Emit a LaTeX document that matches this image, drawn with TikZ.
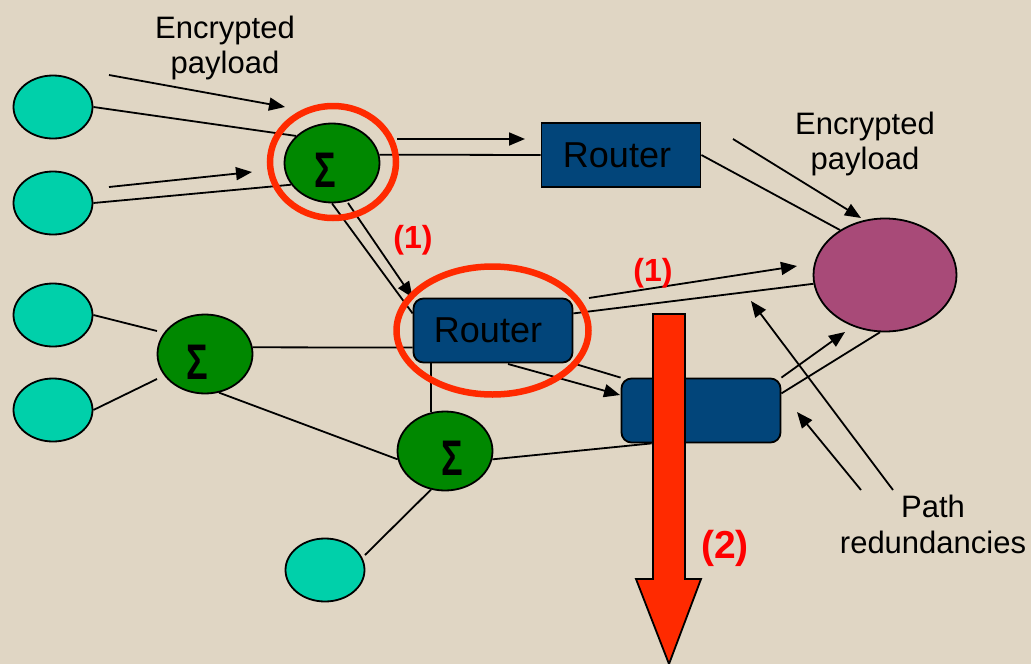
\documentclass[tikz,border=0pt]{standalone}
\usepackage{fontspec}
\setmainfont{Liberation Sans}
\usetikzlibrary{shapes.geometric,arrows.meta}
\definecolor{bg}{RGB}{224,214,196}
\definecolor{leaf}{RGB}{0,208,170}
\definecolor{sumg}{RGB}{0,136,0}
\definecolor{rblue}{RGB}{2,69,122}
\definecolor{dest}{RGB}{168,74,120}
\definecolor{ring}{RGB}{255,42,0}
\definecolor{lbl}{RGB}{255,0,0}
\begin{document}
\begin{tikzpicture}[x=1pt,y=-1pt,line width=1.8pt,
  leafnode/.style={ellipse,draw=black,fill=leaf,minimum width=79pt,minimum height=63pt,inner sep=0pt},
  sumnode/.style={ellipse,draw=black,fill=sumg,minimum width=95pt,minimum height=79pt,inner sep=0pt},
  sigma/.style={font=\fontsize{50}{50}\selectfont\bfseries,inner sep=0pt,text=black},
  router/.style={rectangle,draw=black,fill=rblue,minimum width=159pt,minimum height=64pt,inner sep=0pt,font=\fontsize{36}{36}\selectfont},
  rrouter/.style={router,rounded corners=10pt},
  destnode/.style={ellipse,draw=black,fill=dest,minimum width=143pt,minimum height=113pt,inner sep=0pt},
  txt/.style={font=\fontsize{31}{35}\selectfont,align=center,inner sep=0pt,anchor=north},
  redlab/.style={font=\fontsize{32}{32}\selectfont\bfseries,text=lbl,inner sep=0pt},
  ringst/.style={draw=ring,line width=6.5pt},
  arr/.style={-{Triangle[length=16pt,width=13pt]}},
  conn/.style={line width=1.8pt}]
\fill[bg] (0,0) rectangle (1031,664);
\useasboundingbox (0,0) rectangle (1031,664);

% nodes
\node[leafnode] (C1) at (53,107) {};
\node[leafnode] (C2) at (53,203) {};
\node[leafnode] (C3) at (53,315) {};
\node[leafnode] (C4) at (53,410) {};
\node[leafnode] (C5) at (325,570) {};
\node[sumnode,label={[sigma,xshift=-7pt,yshift=-7pt]center:\scalebox{0.72}[1]{Σ}}] (G1) at (332,163) {};
\node[sumnode,label={[sigma,xshift=-8pt,yshift=-8pt]center:\scalebox{0.72}[1]{Σ}}] (G2) at (205,354) {};
\node[sumnode,label={[sigma,xshift=7pt,yshift=-7pt]center:\scalebox{0.72}[1]{Σ}}] (G3) at (445,451) {};
\node[router] (R1) at (621,155) {Router\hspace*{8pt}};
\node[rrouter] (R2) at (493,330.5) {Router\hspace*{10pt}};
\node[rrouter] (R3) at (701,410.5) {};
\node[destnode] (P) at (885,275) {};

% free arrow ends
\coordinate (a1s) at (109,75);  \coordinate (a1e) at (285,107);
\coordinate (a2s) at (109,187); \coordinate (a2e) at (252,172);
\coordinate (a3s) at (397,139); \coordinate (a3e) at (525,139);
\coordinate (a4s) at (348,203);
\coordinate (a5s) at (733,139); \coordinate (a5e) at (861,218);
\coordinate (a6s) at (589,298); \coordinate (a6e) at (797,266);
\coordinate (a7s) at (508,364); \coordinate (a7e) at (620,395);
\coordinate (a8e) at (845,332);
\coordinate (a9s) at (893,490); \coordinate (a9e) at (751,301);
\coordinate (a10s) at (861,490); \coordinate (a10e) at (797,412);
\coordinate (g2in1) at (157,331);
\coordinate (g2in2) at (157,379);
\coordinate (c5out) at (365,555);
\coordinate (r3foot) at ([xshift=31pt]R3.south west);

% connectors
\draw[conn] (C1.east) -- (G1.143);
\draw[conn] (C2.east) -- (G1.208);
\draw[conn,arr] (a1s) -- (a1e);
\draw[conn,arr] (a2s) -- (a2e);
\draw[conn] (G1.10) -- (R1.west);
\draw[conn,arr] (a3s) -- (a3e);
\draw[conn] (G1.south) -- (R2.168);
\draw[conn,arr] (a4s) -- (R2.north west);
\draw[conn] (R1.east) -- (P.135);
\draw[conn,arr] (a5s) -- (a5e);
\draw[conn,arr] (a6s) -- (a6e);
\draw[conn] (R2.12) -- (P.187);
\draw[conn,arr] (a7s) -- (a7e);
\draw[conn] (R2.south east) -- (R3.north west);
\draw[conn,arr] (R3.north east) -- (a8e);
\draw[conn] (R3.12) -- (P.265);
\draw[conn,arr] (a9s) -- (a9e);
\draw[conn,arr] (a10s) -- (a10e);
\draw[conn] (C3.east) -- (g2in1);
\draw[conn] (C4.east) -- (g2in2);
\draw[conn] (G2.8) -- (R2.192);
\draw[conn] (G2.290) -- (G3.190);
\draw[conn] (G3.110 |- R2.south) -- (G3.110);
\draw[conn] (c5out) -- (G3.250);
\draw[conn] (G3.350) -- (r3foot);

% red rings
\draw[ringst] (333,162) ellipse [x radius=63, y radius=56];
\draw[ringst] (492.5,330.5) ellipse [x radius=96, y radius=64];

% big red arrow
\draw[line width=1.8pt,fill=ring] (653,314) -- (685,314) -- (685,579) -- (701,579) -- (669,664) -- (636,579) -- (653,579) -- cycle;

% labels
\node[txt] (lab1) at (225,15) {Encrypted\\payload};
\node[txt] (lab2) at (865,111) {Encrypted\\payload};
\node[txt,font=\fontsize{31}{36}\selectfont] (lab3) at (933,494) {Path\\redundancies};
\node[redlab] (one1) at (413,240) {(1)};
\node[redlab] (one2) at (653,273) {(1)};
\node[redlab,font=\fontsize{39}{39}\selectfont\bfseries] (two) at (725,548) {(2)};
\end{tikzpicture}
\end{document}
